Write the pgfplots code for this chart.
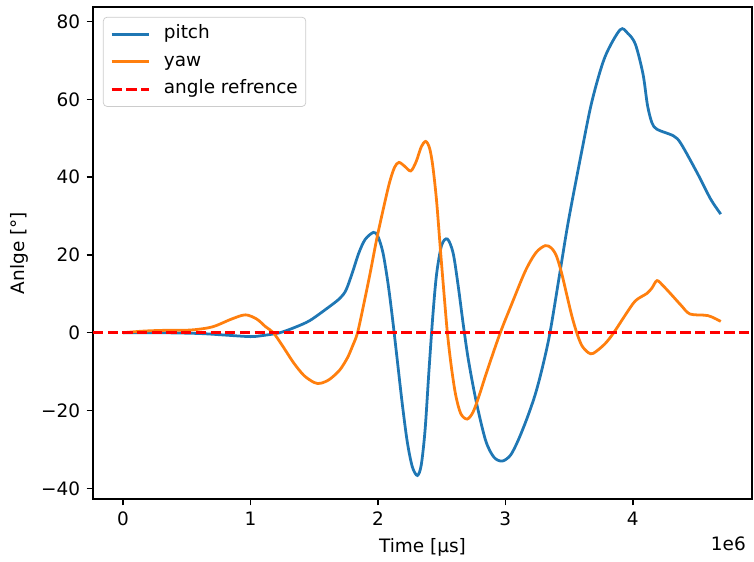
\documentclass[border=0pt]{standalone}
\usepackage{pgfplots}
\pgfplotsset{compat=1.18}
\usepackage{fontspec}
\setmainfont{DejaVu Sans}
\definecolor{C0}{HTML}{1F77B4}
\definecolor{C1}{HTML}{FF7F0E}
\begin{document}
\begin{tikzpicture}
\path[use as bounding box] (-50.4pt,-33.6pt) rectangle (357.9pt,270.2pt);
\begin{axis}[
  scale only axis,
  width=356.8pt, height=266.4pt,
  xmin=-0.235, xmax=4.935,
  ymin=-42.75, ymax=83.75,
  xtick={0,1,2,3,4},
  xticklabels={0,1,2,3,4},
  ytick={-40,-20,0,20,40,60,80},
  yticklabels={−40,−20,0,20,40,60,80},
  tick align=outside,
  major tick length=3.5pt,
  tick style={black, line width=0.8pt},
  axis line style={line width=0.8pt},
  xtick pos=bottom, ytick pos=left,
  xlabel={Time [µs]},
  ylabel={Anlge [°]},
  ticklabel style={font=\fontsize{10}{12}\selectfont},
  label style={font=\fontsize{10}{12}\selectfont},
  clip=true,
  legend cell align=left,
  legend image code/.code={\draw[#1] (0pt,0pt) -- (20pt,0pt);},
  legend style={at={(0.015,0.98)}, anchor=north west, draw=black!20, rounded corners=2pt,
    inner xsep=3.8pt, inner ysep=3.4pt, row sep=3.5pt, column sep=7pt,
    nodes={inner sep=0.5pt, text depth=0.3em, text height=0.75em, font=\fontsize{10}{12}\selectfont}},
]
\addplot[C0, line width=1.5pt, smooth, tension=0.5] coordinates {
(0,0) (0.3,0) (0.6,-0.2) (0.8,-0.6) (1.0,-1.0) (1.1,-0.7) (1.23,0)
(1.35,1.4) (1.464,3.1) (1.594,6.1) (1.70,8.8) (1.75,11) (1.80,15.5)
(1.85,20.5) (1.90,24) (1.965,25.8) (2.00,24.8) (2.04,20.5) (2.08,12.5)
(2.115,3.5) (2.15,-6.5) (2.19,-18) (2.23,-28) (2.27,-34.5) (2.31,-36.7)
(2.34,-34) (2.37,-25) (2.40,-10) (2.43,4) (2.46,15) (2.50,22.5)
(2.545,24.1) (2.59,20.5) (2.63,12) (2.67,2) (2.71,-7) (2.77,-17.5)
(2.845,-27.7) (2.91,-32) (2.975,-33) (3.04,-31.5) (3.10,-27.7) (3.17,-22)
(3.235,-15.8) (3.29,-9) (3.35,0) (3.43,15.9) (3.495,28.8) (3.60,46.8)
(3.68,59.6) (3.78,70.8) (3.90,77.9) (3.96,77) (4.02,74.2) (4.08,66.5)
(4.115,58.5) (4.15,54) (4.19,52.3) (4.32,50.6) (4.38,48.5) (4.51,40.8)
(4.61,34.4) (4.69,30.5)
};
\addlegendentry{pitch}
\addplot[C1, line width=1.5pt, smooth, tension=0.5] coordinates {
(0,0) (0.15,0.4) (0.3,0.6) (0.53,0.7) (0.7,1.5) (0.85,3.5) (0.96,4.6)
(1.05,3.5) (1.12,1.5) (1.18,0) (1.26,-3.8) (1.34,-7.8) (1.42,-11)
(1.50,-12.8) (1.55,-13) (1.62,-12) (1.70,-9.6) (1.76,-6.5) (1.80,-3.5)
(1.84,0) (1.89,7.5) (1.94,15.5) (1.99,24) (2.04,31.5) (2.09,38.5)
(2.13,42.5) (2.165,43.8) (2.21,42.8) (2.258,41.6) (2.30,44) (2.34,47.8)
(2.375,49.2) (2.405,47.5) (2.43,43) (2.46,34) (2.49,21.5) (2.52,9.5)
(2.545,0) (2.575,-8.5) (2.61,-16) (2.65,-20.8) (2.70,-22.2) (2.745,-20.5)
(2.79,-16.6) (2.83,-12.5) (2.87,-8.5) (2.96,0) (3.05,7.4) (3.157,15.9)
(3.24,20.6) (3.313,22.4) (3.36,21.8) (3.40,19.8) (3.44,15.5) (3.48,10)
(3.52,4.5) (3.56,0) (3.60,-3.3) (3.65,-5.1) (3.69,-5.3) (3.78,-2.9)
(3.85,0) (3.94,4.5) (4.02,8.2) (4.11,10.1) (4.15,11.5) (4.19,13.4)
(4.24,12) (4.30,9.9) (4.38,7.0) (4.45,4.8) (4.59,4.4) (4.69,2.9)
};
\addlegendentry{yaw}
\addplot[red, line width=1.5pt, dash pattern=on 5.55pt off 2.4pt] coordinates {(-0.235,0) (4.935,0)};
\addlegendentry{angle refrence}
\end{axis}
\node[anchor=base east, font=\fontsize{10}{12}\selectfont] at (357pt,-28pt) {1e6};
\end{tikzpicture}
\end{document}
